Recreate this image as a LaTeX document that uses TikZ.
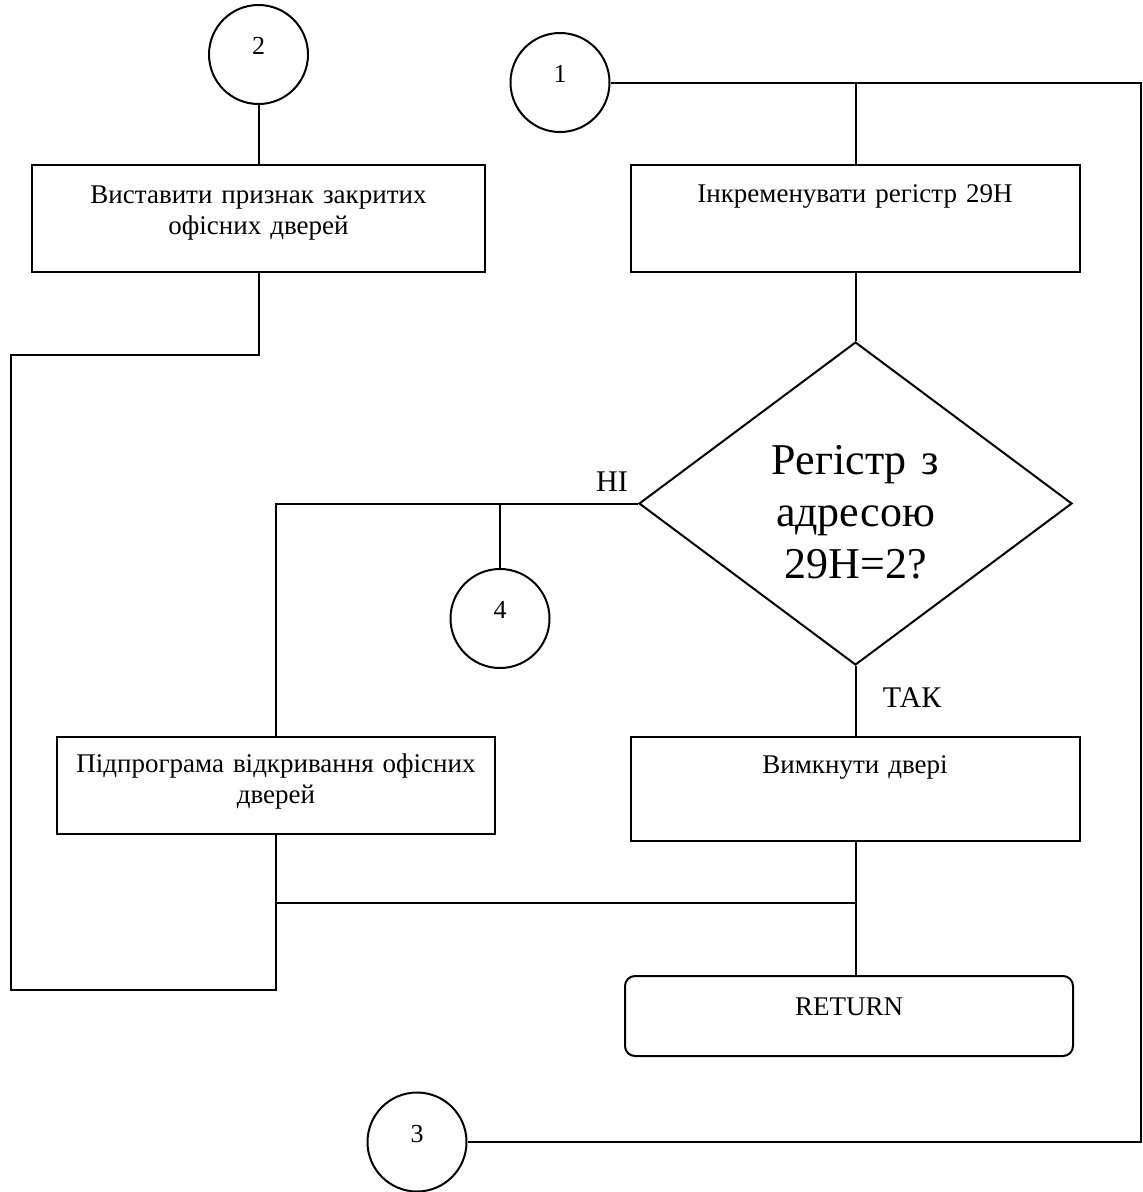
\documentclass[tikz,border=0pt]{standalone}
\usepackage{fontspec}
\setmainfont{Liberation Serif}
\usetikzlibrary{shapes.geometric}

% font sizes used in the chart
\newcommand\boxfont{\fontsize{27pt}{31pt}\selectfont}
\newcommand\numfont{\fontsize{26pt}{30pt}\selectfont}
\newcommand\lblfont{\fontsize{30pt}{34pt}\selectfont}
\newcommand\qfont{\fontsize{44pt}{52pt}\selectfont}

\tikzset{
  flow/.style={line width=2pt},
  procbox/.style={draw, rectangle, line width=2pt, inner xsep=10pt, inner ysep=0pt,
                  align=center, font=\boxfont},
  termbox/.style={procbox, rounded corners=10pt},
  conn/.style={draw, circle, line width=2pt, minimum size=99pt, inner sep=0pt,
               text height=10pt, text depth=10pt, font=\numfont},
  decision/.style={draw, diamond, line width=2pt, inner sep=0pt, aspect=1.34,
                   minimum width=433pt, minimum height=323pt, align=center,
                   text width=190pt, text height=32pt, text depth=90pt, font=\qfont},
  lbl/.style={inner sep=0pt, anchor=base, font=\lblfont}
}

\begin{document}
\begin{tikzpicture}[x=1pt, y=-1pt]
\useasboundingbox (0,0) rectangle (1143,1192);

% connectors (off-page references)
\node[conn] (c2) at (258.5,54.5) {2};
\node[conn] (c1) at (560,82.5) {1};
\node[conn] (c4) at (500,618.5) {4};
\node[conn] (c3) at (417,1142) {3};

% process blocks
\node[procbox, text width=433pt, text height=38pt, text depth=69pt] (A) at (258.5,218.5)
  {Виставити признак закритих\\офісних дверей};
\node[procbox, text width=429pt, text height=37pt, text depth=70pt] (B) at (855,218.5)
  {Інкременувати регістр 29Н};
\node[decision] (q) at (855.5,503.5) {Регістр з\\адресою\\29Н=2?};
\node[procbox, text width=418pt, text height=35pt, text depth=62pt] (C) at (276,785.5)
  {Підпрограма відкривання офісних\\дверей};
\node[procbox, text width=429pt, text height=36pt, text depth=68pt] (D) at (855,789)
  {Вимкнути двері};
\node[termbox, text width=428pt, text height=39pt, text depth=41pt] (ret) at (849,1016)
  {RETURN};

% branch labels
\node[lbl] (no) at (612,491) {НІ};
\node[lbl] (yes) at (912,707) {ТАК};

% routing points
\coordinate (tr) at (1140.5,82.5);
\coordinate (l1) at (10.5,355);
\coordinate (l2) at (10.5,990);
\coordinate (mid) at (0,903);

% lines
\draw[flow] (c2.south) -- (A.north);
\draw[flow] (A.south) |- (l1) -- (l2) -| (C.south);
\draw[flow] (c1.east) -- (tr) |- (c3.east);
\draw[flow] (c1.east -| q.north) -- (B.north -| q.north);
\draw[flow] (B.south -| q.north) -- (q.north);
\draw[flow] (q.west) -| (C.north);
\draw[flow] (c4.north |- q.west) -- (c4.north);
\draw[flow] (q.south) -- (D.north -| q.south);
\draw[flow] (D.south -| q.south) -- (ret.north -| q.south);
\draw[flow] (C.south |- mid) -- (q.south |- mid);
\end{tikzpicture}
\end{document}
